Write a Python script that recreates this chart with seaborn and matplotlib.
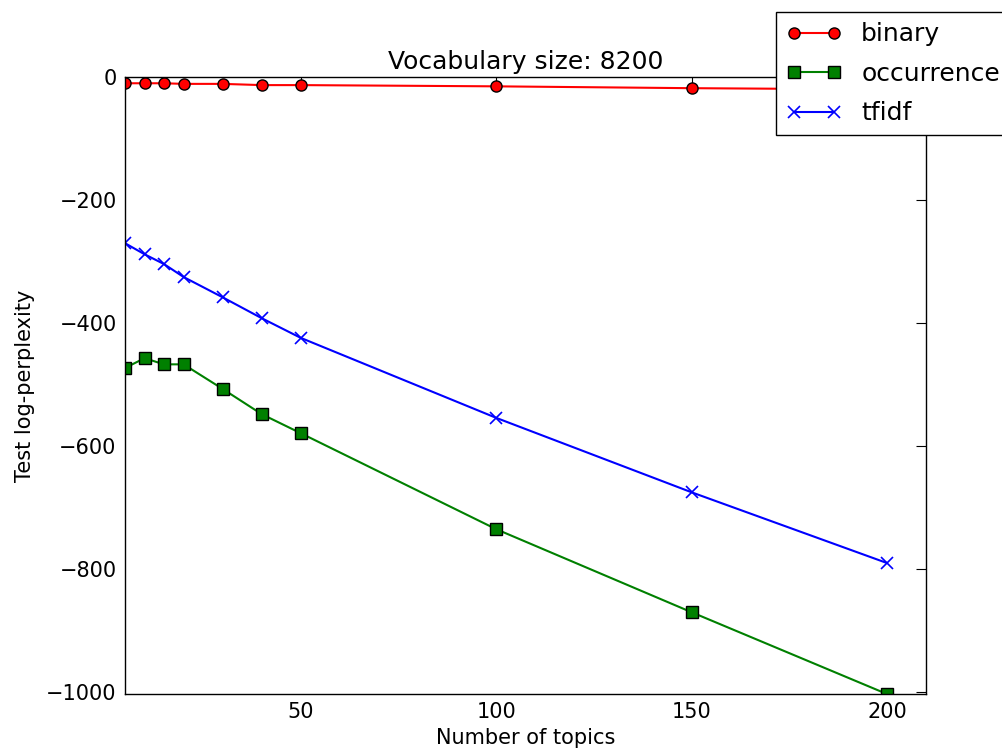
import pandas as pd
import seaborn as sns
import matplotlib
matplotlib.use("Agg")
import matplotlib.pyplot as plt

# Data
topics = [5, 10, 15, 20, 30, 40, 50, 100, 150, 200]
binary = [-10, -10, -10, -11, -11, -13, -13, -15, -18, -20]
occurrence = [-473, -457, -467, -467, -507, -548, -579, -735, -870, -1003]
tfidf = [-270, -288, -304, -325, -358, -392, -424, -554, -675, -790]

series = [
    ("binary", binary, "red", "o", "black"),
    ("occurrence", occurrence, "green", "s", "black"),
    ("tfidf", tfidf, "blue", "x", "blue"),
]

sns.set_style("white")
plt.rcParams["font.family"] = ["DejaVu Sans"]
plt.rcParams["text.color"] = "black"
plt.rcParams["axes.labelcolor"] = "black"

fig = plt.figure(figsize=(10.03, 7.56), dpi=100)
ax = fig.add_axes([0.1246, 0.082, 0.7986, 0.816])

for name, vals, color, marker, edge in series:
    df = pd.DataFrame({"topics": topics, "value": vals})
    sns.lineplot(data=df, x="topics", y="value", ax=ax, color=color,
                 marker=marker, markersize=8, markeredgecolor=edge,
                 markeredgewidth=1.0 if marker != "x" else 1.2,
                 linewidth=1.5, label=name)

ax.set_xlim(5, 210)
ax.set_ylim(-1003, 0)
ax.set_xticks([50, 100, 150, 200])
ax.set_yticks([0, -200, -400, -600, -800, -1000])
ax.tick_params(direction="in", top=True, right=True, length=7,
               labelsize=15, colors="black", pad=6)
for s in ax.spines.values():
    s.set_color("black")
    s.set_linewidth(1.0)

ax.set_title("Vocabulary size: 8200", fontsize=18, pad=6)
ax.set_xlabel("Number of topics", fontsize=15)
ax.set_ylabel("Test log-perplexity", fontsize=15, labelpad=8)

leg = ax.legend(loc="upper left", bbox_to_anchor=(0.813, 1.105),
                fontsize=18, numpoints=2, fancybox=False, framealpha=1,
                borderaxespad=0, handlelength=2.2, labelspacing=0.62)
leg.get_frame().set_edgecolor("black")
leg.get_frame().set_linewidth(1.0)

fig.savefig("out.png", dpi=100)
